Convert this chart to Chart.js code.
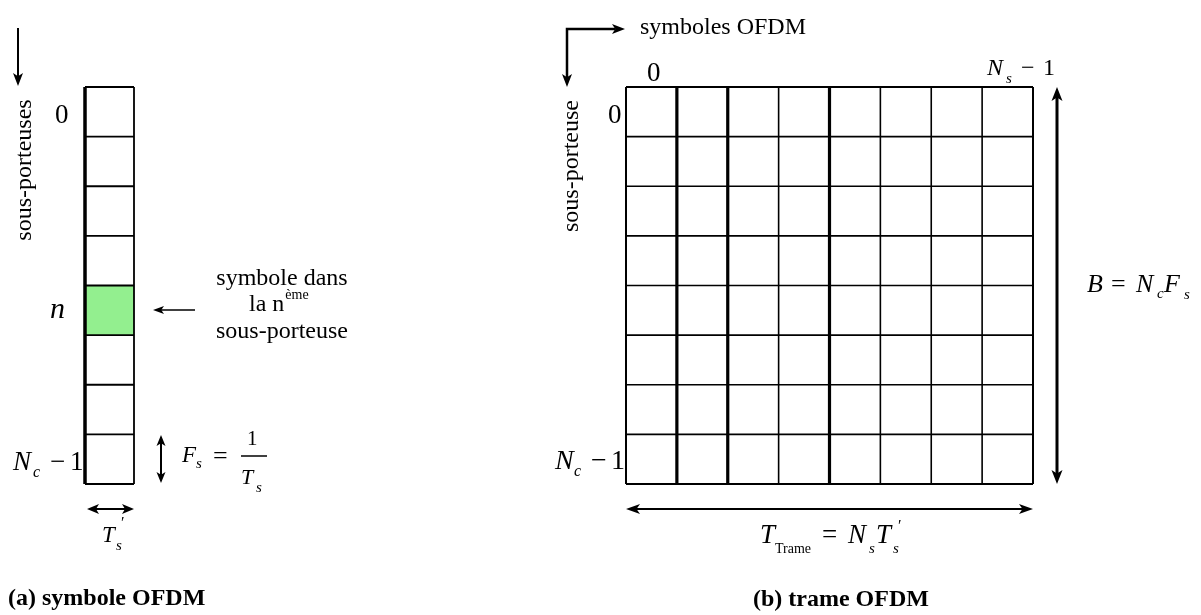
<!DOCTYPE html>
<html>

<head>
  <meta charset="utf-8" />
  <style>
    body { margin: 0; background: #fff; }
  </style>
</head>

<script src="https://cdn.jsdelivr.net/npm/chart.js"></script>

<body>
  <canvas id="ofdm" width="1201" height="615"></canvas>

  <script>
    // diagram content
    var nSubcarriers = 8;          // rows in the symbol and in the frame
    var nSymbols = 8;              // columns in the frame
    var highlightRow = 4;          // the n-th subcarrier (green cell)
    var thickSymbolBorders = [1, 2, 4];
    var captions = ['(a) symbole OFDM', '(b) trame OFDM'];
    var axisLabels = ['sous-porteuses', 'sous-porteuse', 'symboles OFDM'];
    var noteLines = ['symbole dans', 'la n', 'sous-porteuse'];
    var noteSup = 'ème';

    // layout (pixels, the scales map 1:1 onto the canvas)
    var col = { x0: 85, x1: 134, y0: 87, y1: 484 };
    var grid = { x0: 626, x1: 1033, y0: 87, y1: 484 };

    var SERIF = '"Liberation Serif", "Times New Roman", serif';

    function seg(x0, y0, x1, y1, w) {
      return {
        data: [{ x: x0, y: y0 }, { x: x1, y: y1 }],
        showLine: true, pointRadius: 0, borderColor: '#000',
        borderWidth: w, fill: false, tension: 0
      };
    }

    var datasets = [];
    // single OFDM symbol column
    var rowH = (col.y1 - col.y0) / nSubcarriers;
    for (var r = 0; r <= nSubcarriers; r++) {
      var y = col.y0 + r * rowH;
      datasets.push(seg(col.x0, y, col.x1, y, r == 0 || r == nSubcarriers ? 2 : 1.8));
    }
    datasets.push(seg(col.x0, col.y0, col.x0, col.y1, 3.5));
    datasets.push(seg(col.x1, col.y0, col.x1, col.y1, 1.8));

    // OFDM frame
    var gRowH = (grid.y1 - grid.y0) / nSubcarriers;
    var gColW = (grid.x1 - grid.x0) / nSymbols;
    for (var r = 0; r <= nSubcarriers; r++) {
      var y = grid.y0 + r * gRowH;
      datasets.push(seg(grid.x0, y, grid.x1, y, r == 0 || r == nSubcarriers ? 2 : 1.6));
    }
    for (var c = 0; c <= nSymbols; c++) {
      var x = grid.x0 + c * gColW;
      var w = thickSymbolBorders.indexOf(c) >= 0 ? 3.2 : (c == 0 || c == nSymbols ? 2 : 1.6);
      datasets.push(seg(x, grid.y0, x, grid.y1, w));
    }

    function arrowHead(ctx, x, y, ang, len, half) {
      ctx.save();
      ctx.translate(x, y);
      ctx.rotate(ang);
      ctx.beginPath();
      ctx.moveTo(0, 0);
      ctx.lineTo(-len, -half);
      ctx.lineTo(-len * 0.75, 0);
      ctx.lineTo(-len, half);
      ctx.closePath();
      ctx.fill();
      ctx.restore();
    }

    // line from a to b, heads at the ends asked for
    function arrow(ctx, ax, ay, bx, by, w, headA, headB, len, half) {
      var ang = Math.atan2(by - ay, bx - ax);
      ctx.lineWidth = w;
      ctx.beginPath();
      ctx.moveTo(ax + (headA ? Math.cos(ang) * len * 0.7 : 0), ay + (headA ? Math.sin(ang) * len * 0.7 : 0));
      ctx.lineTo(bx - (headB ? Math.cos(ang) * len * 0.7 : 0), by - (headB ? Math.sin(ang) * len * 0.7 : 0));
      ctx.stroke();
      if (headB) arrowHead(ctx, bx, by, ang, len, half);
      if (headA) arrowHead(ctx, ax, ay, ang + Math.PI, len, half);
    }

    // draws pieces of text one after another on a baseline
    function rich(ctx, x, y, parts) {
      var cx = x;
      parts.forEach(function (p) {
        ctx.font = p.f;
        var px = p.x !== undefined ? p.x : cx;
        ctx.fillText(p.t, px, y + (p.dy || 0));
        cx = px + ctx.measureText(p.t).width + (p.gap || 0);
      });
    }

    function it(size) { return 'italic ' + size + 'px ' + SERIF; }
    function rm(size) { return size + 'px ' + SERIF; }

    var diagramPlugin = {
      id: 'diagram',
      beforeDatasetsDraw: function (chart) {
        var ctx = chart.ctx, sx = chart.scales.x, sy = chart.scales.y;
        var top = sy.getPixelForValue(col.y0 + highlightRow * rowH);
        var bot = sy.getPixelForValue(col.y0 + (highlightRow + 1) * rowH);
        ctx.save();
        ctx.fillStyle = '#93ef8f';
        ctx.fillRect(sx.getPixelForValue(col.x0), top, sx.getPixelForValue(col.x1) - sx.getPixelForValue(col.x0), bot - top);
        ctx.restore();
      },
      afterDatasetsDraw: function (chart) {
        var ctx = chart.ctx;
        ctx.save();
        ctx.fillStyle = '#000';
        ctx.strokeStyle = '#000';
        ctx.textBaseline = 'alphabetic';
        ctx.textAlign = 'left';

        // ----- (a) -----
        arrow(ctx, 18, 28, 18, 86, 2, false, true, 13, 5);
        ctx.save();
        ctx.translate(25, 170);
        ctx.rotate(-Math.PI / 2);
        ctx.font = rm(24);
        ctx.textAlign = 'center';
        ctx.textBaseline = 'middle';
        ctx.fillText(axisLabels[0], 0, 0);
        ctx.restore();

        rich(ctx, 55, 123, [{ t: '0', f: rm(27) }]);
        rich(ctx, 50, 318, [{ t: 'n', f: it(30) }]);
        rich(ctx, 13, 470, [
          { t: 'N', f: it(27) },
          { t: 'c', f: it(16), x: 33, dy: 7 },
          { t: '\u2212', f: rm(27), x: 50 },
          { t: '1', f: rm(27), x: 70 }
        ]);

        ctx.textAlign = 'center';
        ctx.font = rm(24);
        ctx.fillText(noteLines[0], 282, 285);
        ctx.fillText(noteLines[2], 282, 338);
        ctx.textAlign = 'left';
        rich(ctx, 249, 311, [{ t: noteLines[1], f: rm(24), gap: 1 }, { t: noteSup, f: rm(14), dy: -12 }]);
        arrow(ctx, 195, 310, 153, 310, 1.6, false, true, 11, 4);

        arrow(ctx, 161, 435, 161, 483, 2, true, true, 11, 4.5);
        rich(ctx, 182, 462, [
          { t: 'F', f: it(23) },
          { t: 's', f: it(15), x: 196, dy: 6 },
          { t: '=', f: rm(26), x: 213, dy: 2 }
        ]);
        rich(ctx, 247, 445, [{ t: '1', f: rm(21) }]);
        ctx.lineWidth = 1.5;
        ctx.beginPath();
        ctx.moveTo(241, 456);
        ctx.lineTo(267, 456);
        ctx.stroke();
        rich(ctx, 241, 484, [{ t: 'T', f: it(22) }, { t: 's', f: it(15), x: 256, dy: 8 }]);

        arrow(ctx, 87, 509, 134, 509, 2, true, true, 12, 5);
        rich(ctx, 102, 542, [
          { t: 'T', f: it(23) },
          { t: 's', f: it(15), x: 116, dy: 8 },
          { t: '\u2032', f: rm(16), x: 121, dy: -14 }
        ]);

        ctx.font = 'bold 24px ' + SERIF;
        ctx.fillText(captions[0], 8, 605);

        // ----- (b) -----
        ctx.lineWidth = 2.5;
        ctx.beginPath();
        ctx.moveTo(567, 80);
        ctx.lineTo(567, 29);
        ctx.lineTo(615, 29);
        ctx.stroke();
        arrowHead(ctx, 625, 29, 0, 13, 5);
        arrowHead(ctx, 567, 87, Math.PI / 2, 13, 5);
        ctx.font = rm(24);
        ctx.fillText(axisLabels[2], 640, 34);

        ctx.save();
        ctx.translate(572, 166);
        ctx.rotate(-Math.PI / 2);
        ctx.font = rm(24);
        ctx.textAlign = 'center';
        ctx.textBaseline = 'middle';
        ctx.fillText(axisLabels[1], 0, 0);
        ctx.restore();

        rich(ctx, 647, 81, [{ t: '0', f: rm(27) }]);
        rich(ctx, 608, 123, [{ t: '0', f: rm(27) }]);
        rich(ctx, 987, 75, [
          { t: 'N', f: it(24) },
          { t: 's', f: it(15), x: 1006, dy: 8 },
          { t: '\u2212', f: rm(24), x: 1021 },
          { t: '1', f: rm(24), x: 1043 }
        ]);
        rich(ctx, 555, 469, [
          { t: 'N', f: it(28) },
          { t: 'c', f: it(16), x: 574, dy: 7 },
          { t: '\u2212', f: rm(28), x: 591 },
          { t: '1', f: rm(28), x: 611 }
        ]);

        arrow(ctx, 1057, 87, 1057, 484, 3, true, true, 14, 5.5);
        rich(ctx, 1087, 292, [
          { t: 'B', f: it(26) },
          { t: '=', f: rm(26), x: 1111 },
          { t: 'N', f: it(26), x: 1136 },
          { t: 'c', f: it(15), x: 1157, dy: 6 },
          { t: 'F', f: it(26), x: 1164 },
          { t: 's', f: it(15), x: 1184, dy: 7 }
        ]);

        arrow(ctx, 626, 509, 1033, 509, 2, true, true, 14, 5);
        rich(ctx, 760, 543, [
          { t: 'T', f: it(27) },
          { t: 'Trame', f: rm(14), x: 775, dy: 10 },
          { t: '=', f: rm(27), x: 822 },
          { t: 'N', f: it(27), x: 848 },
          { t: 's', f: it(15), x: 869, dy: 10 },
          { t: 'T', f: it(27), x: 876 },
          { t: 's', f: it(15), x: 893, dy: 10 },
          { t: '\u2032', f: rm(16), x: 898, dy: -12 }
        ]);

        ctx.font = 'bold 24px ' + SERIF;
        ctx.fillText(captions[1], 753, 606);
        ctx.restore();
      }
    };

    new Chart(document.getElementById('ofdm'), {
      type: 'scatter',
      data: { datasets: datasets },
      options: {
        responsive: false,
        animation: false,
        devicePixelRatio: 1,
        layout: { padding: 0 },
        plugins: { legend: { display: false }, tooltip: { enabled: false } },
        scales: {
          x: { type: 'linear', min: 0, max: 1201, display: false },
          y: { type: 'linear', min: 0, max: 615, reverse: true, display: false }
        }
      },
      plugins: [diagramPlugin]
    });
  </script>
</body>

</html>
